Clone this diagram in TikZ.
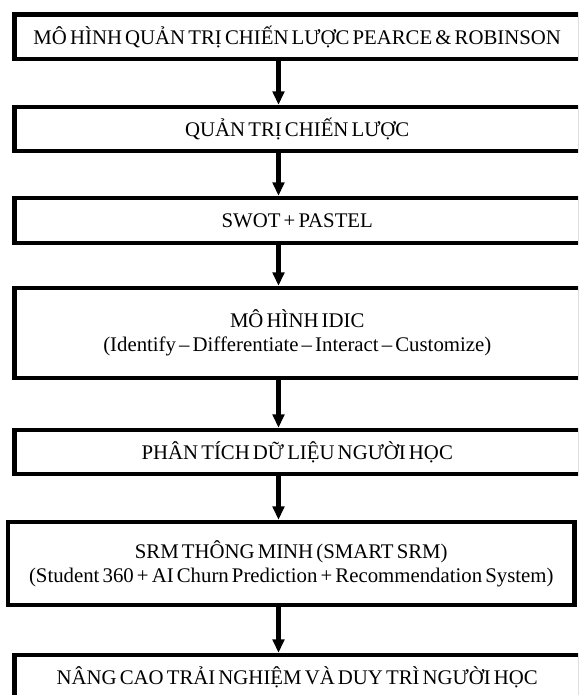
\documentclass[tikz,border=0pt]{standalone}
\usepackage{fontspec}
\setmainfont{Liberation Serif}[WordSpace=0.6]
\usetikzlibrary{arrows.meta,positioning}

\begin{document}
\begin{tikzpicture}[
    x=1pt, y=-1pt,
    box/.style={draw, line width=4.3pt, minimum width=565.5pt, inner sep=0pt, align=center, font=\fontsize{20.8}{24}\selectfont},
    arr/.style={-{Triangle[width=11.5pt,length=13.5pt]}, line width=4.5pt}
]
\clip (0,0) rectangle (578,695);

\node[box, minimum height=44.5pt] (pr) at (297.25, 36.75) {MÔ HÌNH QUẢN TRỊ CHIẾN LƯỢC PEARCE \& ROBINSON};
\node[box, minimum height=44pt] (qt) at (297.25, 129) {QUẢN TRỊ CHIẾN LƯỢC};
\node[box, minimum height=45pt] (swot) at (297.25, 220.5) {SWOT + PASTEL};
\node[box, minimum height=90pt] (idic) at (297.25, 333) {MÔ HÌNH IDIC\\(Identify – Differentiate – Interact – Customize)};
\node[box, minimum height=44pt] (ptdl) at (297.25, 452) {PHÂN TÍCH DỮ LIỆU NGƯỜI HỌC};
\node[box, minimum width=566.5pt, minimum height=83pt] (srm) at (291.25, 563.5) {SRM THÔNG MINH (SMART SRM)\\(Student 360 + AI Churn Prediction + Recommendation System)};
\node[box, minimum height=44pt] (nc) at (297.25, 677) {NÂNG CAO TRẢI NGHIỆM VÀ DUY TRÌ NGƯỜI HỌC};

% arrows down the middle column
\coordinate (col) at (278.5, 0);
\foreach \a/\b in {pr/qt, qt/swot, swot/idic, idic/ptdl, ptdl/srm, srm/nc}
    \draw[arr] (\a.south -| col) -- (\b.north -| col);

\end{tikzpicture}
\end{document}
